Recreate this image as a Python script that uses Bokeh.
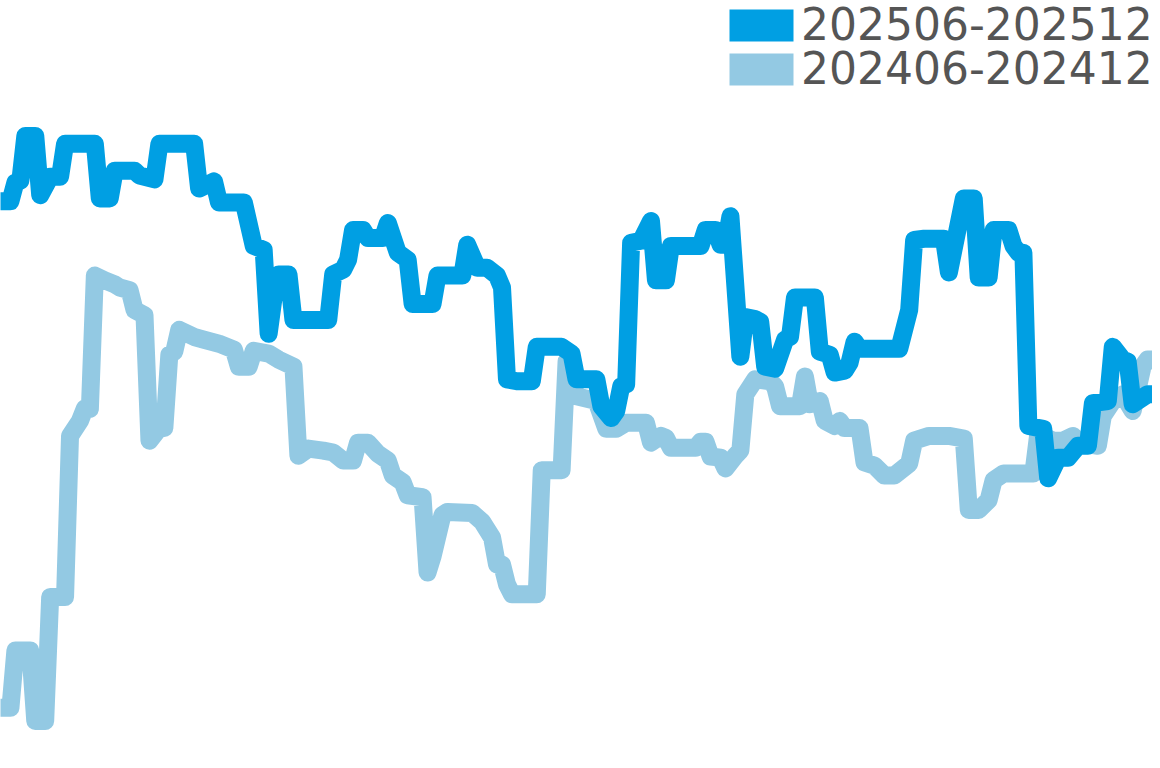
from bokeh.plotting import figure
from bokeh.models import Range1d, Legend, LegendItem
from bokeh.embed import file_html
from bokeh.resources import INLINE

# day index / value pairs (no axes shown in the original)
days_2025 = [0, 2, 3, 4, 5, 7, 8, 10, 12, 13, 19, 20, 22, 23, 27, 28, 31, 32, 39, 40,
             43, 44, 49, 51, 53, 54, 55, 56, 58, 59, 66, 67, 69, 70, 71, 73, 74, 77, 78, 80,
             82, 83, 87, 88, 93, 94, 96, 98, 100, 101, 102, 104, 107, 108, 113, 115, 116, 120, 121, 123,
             124, 125, 126, 127, 129, 131, 132, 134, 135, 141, 142, 144, 145, 146, 147, 149, 150, 152, 153, 154,
             156, 158, 159, 160, 164, 165, 167, 168, 170, 171, 172, 173, 181, 183, 184, 186, 190, 191, 194, 196,
             197, 199, 200, 203, 204, 205, 206, 207, 210, 211, 213, 215, 217, 219, 220, 223, 224, 226, 227, 228,
             231, 232]
vals_2025 = [141.3, 141.3, 146.0, 146.5, 157.8, 157.8, 142.8, 147.5, 147.5, 155.8, 155.8, 142.0, 142.0, 149.0, 149.0, 147.8, 146.8, 155.8, 155.8, 144.5,
             146.3, 141.0, 141.0, 130.0, 129.0, 107.8, 117.0, 122.8, 122.8, 111.3, 111.3, 122.8, 124.0, 126.5, 134.0, 134.0, 132.0, 132.0, 135.8, 128.3,
             126.5, 115.3, 115.3, 122.5, 122.5, 130.3, 124.5, 124.5, 122.5, 119.5, 96.3, 95.8, 95.8, 104.5, 104.5, 102.8, 96.3, 96.3, 89.5, 86.5,
             88.3, 94.5, 95.0, 130.8, 131.3, 136.3, 121.3, 121.3, 130.0, 130.0, 134.0, 134.0, 130.3, 130.3, 137.5, 102.0, 112.0, 111.5, 110.8, 99.5,
             99.0, 106.3, 107.0, 117.0, 117.0, 103.3, 102.5, 98.0, 98.5, 100.5, 105.8, 104.0, 104.0, 113.8, 131.5, 131.8, 131.8, 123.3, 142.0, 142.0,
             122.0, 122.0, 134.0, 134.0, 130.0, 128.3, 128.3, 84.5, 83.8, 71.3, 76.5, 76.5, 79.5, 79.5, 90.3, 90.8, 104.5, 101.3, 100.8, 90.0,
             92.5, 92.5]

days_2024 = [0, 2, 3, 6, 7, 9, 10, 13, 14, 16, 17, 18, 19, 21, 23, 24, 26, 27, 29, 30,
             32, 33, 34, 35, 36, 39, 41, 44, 47, 48, 50, 51, 54, 56, 59, 60, 62, 65, 67, 69,
             71, 72, 74, 76, 78, 79, 81, 82, 85, 86, 87, 89, 90, 95, 97, 99, 100, 101, 102, 103,
             108, 109, 113, 114, 116, 120, 122, 124, 126, 130, 131, 133, 134, 135, 140, 141, 142, 143, 145, 146,
             148, 149, 150, 152, 155, 156, 157, 161, 162, 163, 165, 166, 168, 169, 170, 173, 174, 176, 178, 180,
             183, 184, 187, 191, 194, 195, 197, 199, 200, 202, 208, 209, 212, 214, 216, 217, 221, 222, 224, 226,
             228, 230, 231, 232]
vals_2024 = [13.3, 13.3, 27.8, 27.8, 10.0, 10.0, 41.3, 41.3, 82.0, 85.8, 89.0, 88.8, 122.5, 121.3, 120.3, 119.5, 118.8, 113.8, 112.5, 80.8,
             84.0, 84.0, 102.5, 103.3, 108.8, 107.0, 106.3, 105.3, 103.8, 99.5, 99.5, 103.5, 102.8, 101.3, 99.5, 77.0, 78.8, 78.3, 77.8, 75.8,
             75.8, 80.3, 80.3, 77.5, 75.8, 72.0, 70.3, 67.0, 66.5, 47.5, 51.5, 62.0, 62.8, 62.5, 60.3, 56.3, 49.5, 49.5, 44.5, 42.0,
             42.0, 73.3, 73.3, 100.8, 92.0, 90.8, 83.8, 83.8, 85.3, 85.3, 80.3, 82.0, 81.5, 79.0, 79.0, 80.5, 80.5, 76.8, 76.5, 73.8,
             77.0, 78.3, 92.5, 96.3, 95.8, 94.5, 89.5, 89.5, 97.0, 90.0, 90.8, 85.8, 84.5, 85.8, 84.0, 84.0, 75.3, 74.5, 72.0, 72.0,
             75.0, 80.8, 82.0, 82.0, 81.3, 63.3, 63.3, 65.8, 70.8, 72.5, 72.5, 82.5, 80.8, 80.8, 82.0, 80.3, 79.5, 87.0, 90.8, 92.5,
             88.3, 99.5, 101.3, 101.3]

labels = ["202506-202512", "202406-202412"]
colors = ["#009FE3", "#93C9E3"]

p = figure(width=1152, height=760, output_backend="svg", toolbar_location=None,
           x_axis_location=None, y_axis_location=None,
           x_range=Range1d(0, 232), y_range=Range1d(0, 192),
           min_border=0, outline_line_color=None)
p.grid.visible = False
p.background_fill_color = "white"
p.border_fill_color = "white"

# older period underneath
p.line(days_2024, vals_2024, line_color=colors[1], line_width=18,
       line_join="round", line_cap="round")
p.line(days_2025, vals_2025, line_color=colors[0], line_width=18,
       line_join="round", line_cap="round")

# swatches for the legend only, NaN so nothing shows on the plot
nan = float("nan")
sw_new = p.quad(left=[nan], right=[nan], top=[nan], bottom=[nan], fill_color=colors[0], line_color=None)
sw_old = p.quad(left=[nan], right=[nan], top=[nan], bottom=[nan], fill_color=colors[1], line_color=None)

# one legend per row so the rows can sit closer than bokeh's item height
for label, sw, ypos in [(labels[0], sw_new, 710), (labels[1], sw_old, 666)]:
    legend = Legend(items=[LegendItem(label=label, renderers=[sw])],
                    location=(721, ypos), margin=0, padding=0, spacing=0,
                    glyph_width=80, glyph_height=40, label_standoff=0,
                    label_text_font="DejaVu Sans", label_text_font_size="44px",
                    label_text_color="#555555", border_line_color=None,
                    background_fill_alpha=0)
    p.add_layout(legend)

open("out.html", "w").write(file_html(p, INLINE))
